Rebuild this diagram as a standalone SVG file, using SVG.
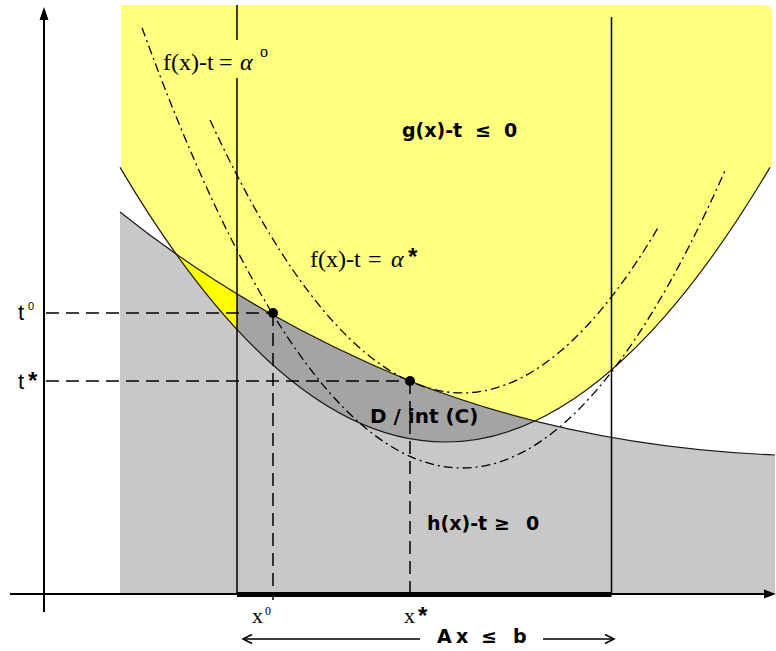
<svg xmlns="http://www.w3.org/2000/svg" width="776" height="651" viewBox="0 0 776 651">
<style>
.ln{fill:none;stroke:#000;stroke-width:1.5}
.crv{fill:none;stroke:#1a1a1a;stroke-width:1.2}
.dd{fill:none;stroke:#000;stroke-width:1.3;stroke-dasharray:9 4 2 4}
.ds{fill:none;stroke:#000;stroke-width:1.5;stroke-dasharray:13 7}
.bl{font-family:"DejaVu Sans",Verdana,sans-serif;font-weight:bold;fill:#000}
.sf{font-family:"Liberation Serif","Times New Roman",serif;fill:#000}
.ss{font-family:"Liberation Sans",Arial,sans-serif;fill:#000}
.st{font-family:"Liberation Sans",Arial,sans-serif;font-weight:bold;font-size:24px;fill:#000}
</style>
<defs>
<clipPath id="aboveG"><path d="M120,167.4 Q445,716.6 770,167.4 L776,0 L100,0 Z"/></clipPath>
<clipPath id="belowH"><path d="M120,212 C216.7,289.3 313.3,340.8 410,381 C531.7,429 653.3,450 775,455 L775,594 L120,594 Z"/></clipPath>
</defs>
<rect width="776" height="651" fill="#fff"/>
<g id="regions">
<path id="yellow-region" d="M121,167 L120,167.4 Q445,716.6 770,167.4 L772,166 L772,13 Q772,5 764,5 L121,5 Z" fill="#ffff80"/>
<path id="gray-region" d="M120,212 C216.7,289.3 313.3,340.8 410,381 C531.7,429 653.3,450 775,455 L775,594 L120,594 Z" fill="#c8c8c8"/>
<g id="lens" clip-path="url(#belowH)">
<g clip-path="url(#aboveG)">
<rect x="115" y="0" width="122" height="600" fill="#ffff00"/>
<rect x="237" y="0" width="375" height="600" fill="#a4a4a4"/>
</g>
</g>
</g>
<g id="connectors">
<path id="g-curve" class="crv" d="M120,167.4 Q445,716.6 770,167.4"/>
<path id="h-curve" class="crv" d="M120,212 C216.7,289.3 313.3,340.8 410,381 C531.7,429 653.3,450 775,455"/>
<path id="alpha0-curve" class="dd" d="M142,27.7 Q433.5,829.9 725,170.6"/>
<path id="alphastar-curve" class="dd" d="M210,119.9 Q434,605.3 658,227.8"/>
<line class="ln" x1="237" y1="5" x2="237" y2="40"/>
<line class="ln" x1="237" y1="78" x2="237" y2="594"/>
<line class="ln" x1="611.5" y1="17" x2="611.5" y2="594"/>
<line class="ds" x1="46" y1="313" x2="273" y2="313"/>
<line class="ds" x1="46" y1="381" x2="410" y2="381"/>
<line class="ds" x1="273" y1="313" x2="273" y2="600"/>
<line class="ds" x1="410" y1="381" x2="410" y2="594"/>
<line id="x-axis" x1="10" y1="594" x2="768" y2="594" stroke="#000" stroke-width="2"/>
<polygon points="776,594 764,589.5 764,598.5" fill="#000"/>
<line id="y-axis" x1="44" y1="612" x2="44" y2="18" stroke="#000" stroke-width="2"/>
<polygon points="44,7 39.5,20 48.5,20" fill="#000"/>
<line x1="237" y1="594.5" x2="611.5" y2="594.5" stroke="#000" stroke-width="5"/>
<line class="ln" x1="243" y1="639" x2="420" y2="639" stroke-width="1.2"/>
<polyline class="ln" points="252,634.5 243,639 252,643.5" stroke-width="1.2"/>
<line class="ln" x1="543" y1="639" x2="614" y2="639" stroke-width="1.2"/>
<polyline class="ln" points="605,634.5 614,639 605,643.5" stroke-width="1.2"/>
</g>
<g id="point-0"><circle cx="273" cy="313" r="5" fill="#000"/></g>
<g id="point-star"><circle cx="410" cy="381" r="5" fill="#000"/></g>
<g id="labels">
<g id="label-alpha0">
<text class="sf" x="163" y="70" font-size="24">f(x)-t</text>
<text class="sf" x="219" y="70" font-size="24">=</text>
<text class="sf" x="240" y="70" font-size="24" font-style="italic">α</text>
<text class="sf" x="260" y="57" font-size="16">o</text>
</g>
<g id="label-alphastar">
<text class="sf" x="310" y="267" font-size="24">f(x)-t</text>
<text class="sf" x="368" y="267" font-size="24">=</text>
<text class="sf" x="391" y="267" font-size="24" font-style="italic">α</text>
<text class="st" x="408" y="265">*</text>
</g>
<text class="bl" font-size="19" y="137"><tspan x="402">g(x)-t</tspan><tspan x="475">≤</tspan><tspan x="504">0</tspan></text>
<text class="bl" font-size="19" y="530"><tspan x="427">h(x)-t</tspan><tspan x="494">≥</tspan><tspan x="526">0</tspan></text>
<text class="bl" font-size="20" x="370" y="423">D / int (C)</text>
<text class="bl" font-size="19" y="643"><tspan x="437">A</tspan><tspan x="456">x</tspan><tspan x="481">≤</tspan><tspan x="513">b</tspan></text>
<text class="ss" x="18" y="320" font-size="22">t</text>
<text class="ss" x="28" y="310" font-size="11">0</text>
<text class="ss" x="18" y="389" font-size="22">t</text>
<text class="st" x="28" y="389">*</text>
<text class="sf" x="252" y="623" font-size="22">x</text>
<text class="sf" x="265" y="615" font-size="12">0</text>
<text class="sf" x="404" y="623" font-size="22">x</text>
<text class="st" x="418" y="624">*</text>
</g>
</svg>
